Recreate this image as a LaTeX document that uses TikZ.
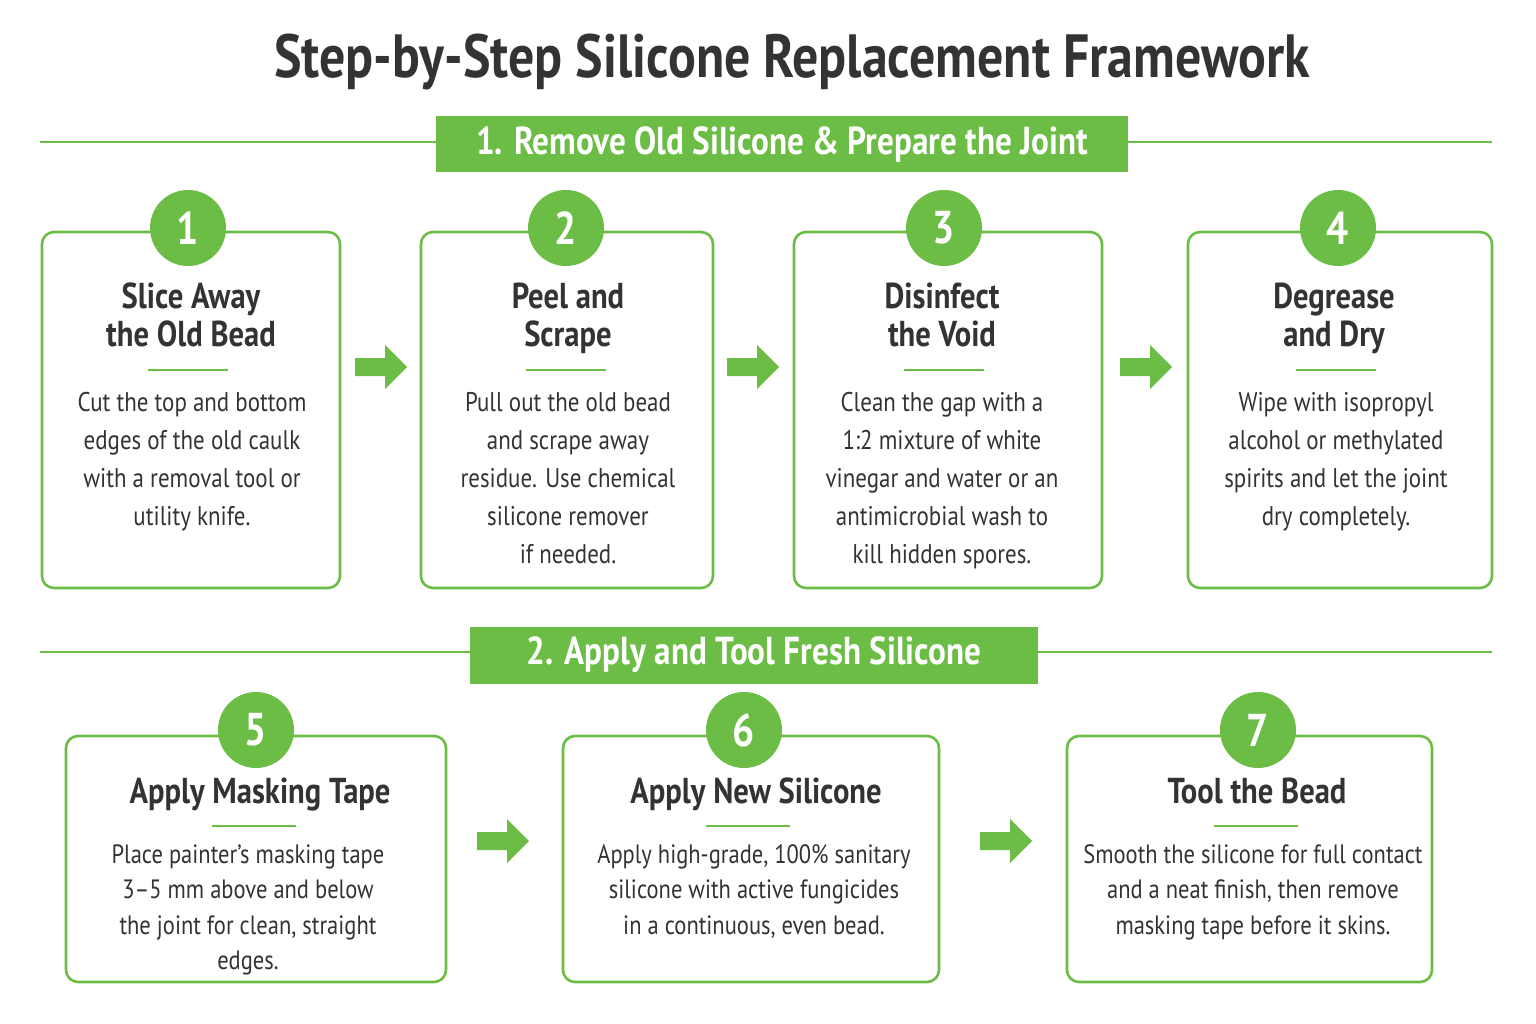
\documentclass[tikz,border=0pt]{standalone}
\usepackage{fontspec}
\setmainfont{PT Sans}[FakeStretch=0.85]
\definecolor{gr}{HTML}{6CBD45}
\definecolor{tx}{HTML}{333333}
\begin{document}
\begin{tikzpicture}[x=1pt,y=-1pt,
 box/.style={draw=gr,line width=2.6pt,rounded corners=12pt,fill=white},
 num/.style={circle,fill=gr,minimum size=76pt,inner sep=0,text=white,font=\bfseries\fontsize{46}{46}\selectfont},
 ttl/.style={text=tx,font=\bfseries\fontsize{36}{38}\selectfont,align=center,anchor=north},
 body/.style={text=tx,font=\fontsize{27}{38}\selectfont,align=center,anchor=north},
 bodyb/.style={body,font=\fontsize{26.5}{35.5}\selectfont},
 ban/.style={fill=gr,text=white,font=\bfseries\fontsize{39}{39}\selectfont,inner sep=0},
 dv/.style={draw=gr,line width=2.5pt}]
\useasboundingbox[fill=white] (0,0) rectangle (1536,1024);
\node[text=tx,font=\bfseries\fontsize{61}{61}\selectfont] (title) at (792,62) {Step-by-Step Silicone Replacement Framework};
% section 1
\coordinate (l1a) at (40,142); \coordinate (l1b) at (1492,142);
\draw[gr,line width=2pt] (l1a)--(l1b);
\node[ban,minimum width=692pt,minimum height=56pt] (b1) at (782,144) {1. Remove Old Silicone \& Prepare the Joint};
\foreach \i/\xa/\xb in {1/42/340,2/421/713,3/794/1102,4/1188/1492}{
  \draw[box] (\xa,232) rectangle (\xb,588);
}
\node[num] (n1) at (188,228) {1};
\node[num] (n2) at (566,228) {2};
\node[num] (n3) at (944,228) {3};
\node[num] (n4) at (1338,228) {4};
\node[ttl] (t1) at (191,279) {Slice Away\\the Old Bead};
\node[ttl] (t2) at (568,279) {Peel and\\Scrape};
\node[ttl] (t3) at (942,279) {Disinfect\\the Void};
\node[ttl] (t4) at (1334,279) {Degrease\\and Dry};
\foreach \x in {188,566,944,1336}{\draw[dv] (\x-40,370)--(\x+40,370);}
\node[body] (d1) at (192,389) {Cut the top and bottom\\edges of the old caulk\\with a removal tool or\\utility knife.};
\node[body] (d2) at (568,389) {Pull out the old bead\\and scrape away\\residue. Use chemical\\silicone remover\\if needed.};
\node[body] (d3) at (942,389) {Clean the gap with a\\1:2 mixture of white\\vinegar and water or an\\antimicrobial wash to\\kill hidden spores.};
\node[body] (d4) at (1336,389) {Wipe with isopropyl\\alcohol or methylated\\spirits and let the joint\\dry completely.};
\foreach \n/\x/\y in {a1/381/367,a2/753/367,a3/1146/367,a5/503/841,a6/1006/841}{
  \fill[gr] (\x-26,\y-9) -- (\x+4,\y-9) -- (\x+4,\y-22) -- (\x+26,\y) -- (\x+4,\y+22) -- (\x+4,\y+9) -- (\x-26,\y+9) -- cycle;
  \coordinate (\n) at (\x,\y);
}
% section 2
\coordinate (l2a) at (40,652); \coordinate (l2b) at (1492,652);
\draw[gr,line width=2pt] (l2a)--(l2b);
\node[ban,minimum width=568pt,minimum height=57pt] (b2) at (754,655) {2. Apply and Tool Fresh Silicone};
\draw[box] (66,736) rectangle (446,982);
\draw[box] (563,736) rectangle (939,982);
\draw[box] (1067,736) rectangle (1432,982);
\node[num] (n5) at (256,730) {5};
\node[num] (n6) at (744,730) {6};
\node[num] (n7) at (1258,730) {7};
\node[ttl] (t5) at (260,774) {Apply Masking Tape};
\node[ttl] (t6) at (756,774) {Apply New Silicone};
\node[ttl] (t7) at (1257,774) {Tool the Bead};
\foreach \x in {254,748,1256}{\draw[dv] (\x-42,826)--(\x+42,826);}
\node[bodyb] (d5) at (248,841) {Place painter’s masking tape\\3–5 mm above and below\\the joint for clean, straight\\edges.};
\node[bodyb] (d6) at (754,841) {Apply high-grade, 100\% sanitary\\silicone with active fungicides\\in a continuous, even bead.};
\node[bodyb] (d7) at (1253,841) {Smooth the silicone for full contact\\and a neat finish, then remove\\masking tape before it skins.};
\end{tikzpicture}
\end{document}
